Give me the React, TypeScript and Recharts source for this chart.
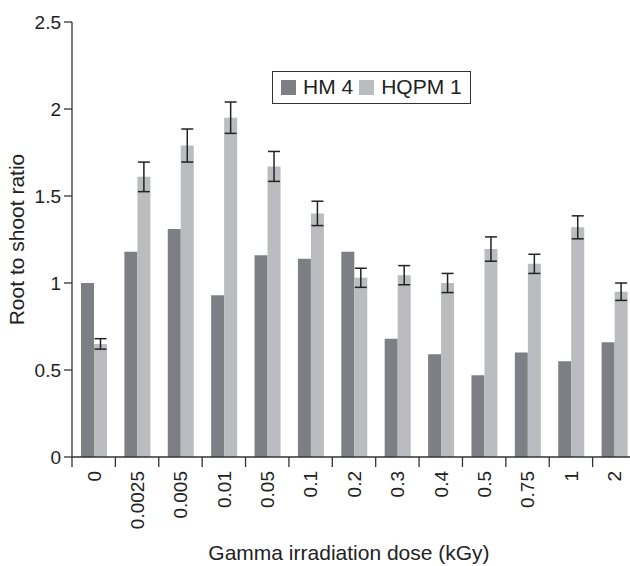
import { Bar, BarChart, ErrorBar, Legend, XAxis, YAxis } from "recharts";

const doses = ["0", "0.0025", "0.005", "0.01", "0.05", "0.1", "0.2", "0.3", "0.4", "0.5", "0.75", "1", "2"];
const hm4 = [1.0, 1.18, 1.31, 0.93, 1.16, 1.14, 1.18, 0.68, 0.59, 0.47, 0.6, 0.55, 0.66];
const hqpm1 = [0.65, 1.61, 1.79, 1.95, 1.67, 1.4, 1.03, 1.045, 1.0, 1.195, 1.11, 1.32, 0.95];
const hqpm1Err = [0.03, 0.085, 0.095, 0.09, 0.086, 0.07, 0.055, 0.055, 0.055, 0.07, 0.055, 0.066, 0.05];
const yTicks = [0, 0.5, 1, 1.5, 2, 2.5];

const DARK = "#7e7f84";
const LIGHT = "#bbbcc0";
const INK = "#222";

const W = 640;
const H = 566;
const M = { top: 22, right: 4, left: 0, bottom: 0 };
const Y_W = 72;
const BAND = (W - M.left - M.right - Y_W) / doses.length;

const data = doses.map((d, i) => ({ dose: d, hm4: hm4[i], hqpm1: hqpm1[i], err: hqpm1Err[i] }));

function DoseTick(props: any) {
  const { x, y, payload } = props;
  const edge = x - BAND / 2;
  return (
    <g>
      <line x1={edge} x2={edge} y1={y} y2={y + 10} stroke="#333" strokeWidth={1.3} />
      <text
        x={0}
        y={0}
        dy="0.36em"
        textAnchor="end"
        fontSize={19}
        fill={INK}
        transform={`translate(${x},${y + 14}) rotate(-90)`}
      >
        {payload.value}
      </text>
    </g>
  );
}

function LegendBox() {
  const item = (color: string, label: string) => (
    <span style={{ display: "inline-flex", alignItems: "center", marginRight: 6 }}>
      <span style={{ width: 15, height: 15, background: color, display: "inline-block", marginRight: 7 }} />
      <span>{label}</span>
    </span>
  );
  return (
    <div
      style={{
        border: "1.5px solid #333",
        padding: "3px 2px 3px 8px",
        fontSize: 21,
        color: INK,
        lineHeight: "24px",
        background: "#fff",
        whiteSpace: "nowrap",
        display: "inline-block",
      }}
    >
      {item(DARK, "HM 4")}
      {item(LIGHT, "HQPM 1")}
    </div>
  );
}

export default function App() {
  return (
    <div
      style={{
        position: "fixed",
        top: 0,
        left: 0,
        width: 630,
        height: H,
        overflow: "hidden",
        fontFamily: '"Liberation Sans", Arial, Helvetica, sans-serif',
        background: "#fff",
      }}
    >
      <BarChart width={W} height={H} data={data} margin={M} barCategoryGap={9} barGap={0}>
        <XAxis
          dataKey="dose"
          height={H - 457}
          tickLine={false}
          tickSize={0}
          tickMargin={0}
          interval={0}
          tick={<DoseTick />}
          axisLine={{ stroke: "#333", strokeWidth: 1.3 }}
          label={{
            content: ({ viewBox }: any) => (
              <text
                x={viewBox.x + viewBox.width / 2 - 5}
                y={H - 6}
                textAnchor="middle"
                fontSize={21}
                fill={INK}
              >
                Gamma irradiation dose (kGy)
              </text>
            ),
          }}
        />
        <YAxis
          width={Y_W}
          domain={[0, 2.5]}
          ticks={yTicks}
          interval={0}
          tickSize={8}
          tickMargin={3}
          tick={{ fontSize: 19, fill: INK }}
          tickLine={{ stroke: "#333", strokeWidth: 1.3 }}
          axisLine={{ stroke: "#333", strokeWidth: 1.3 }}
          label={{
            content: ({ viewBox }: any) => (
              <text
                x={0}
                y={0}
                dy="0.36em"
                textAnchor="middle"
                fontSize={21}
                fill={INK}
                transform={`translate(${viewBox.x + 16},${viewBox.y + viewBox.height / 2}) rotate(-90)`}
              >
                Root to shoot ratio
              </text>
            ),
          }}
        />
        <Legend
          layout="horizontal"
          verticalAlign="middle"
          align="center"
          content={() => <LegendBox />}
          wrapperStyle={{ top: 71, left: 272, width: "auto" }}
        />
        <Bar dataKey="hm4" name="HM 4" fill={DARK} isAnimationActive={false} />
        <Bar dataKey="hqpm1" name="HQPM 1" fill={LIGHT} isAnimationActive={false}>
          <ErrorBar dataKey="err" width={6} stroke={INK} strokeWidth={1.5} direction="y" />
        </Bar>
      </BarChart>
    </div>
  );
}
